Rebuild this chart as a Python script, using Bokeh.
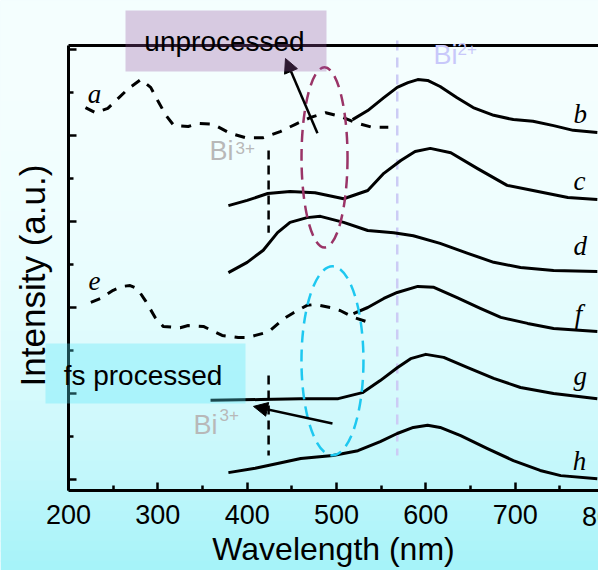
import math
from bokeh.plotting import figure
from bokeh.models import (Range1d, LinearAxis, FixedTicker, Label, BoxAnnotation,
                          Arrow, NormalHead)
from bokeh.embed import file_html
from bokeh.resources import INLINE

# ---------------- data ----------------
x_tick_values = [200, 300, 400, 500, 600, 700, 800]
x_tick_labels = ["200", "300", "400", "500", "600", "700", "800"]
x_minor_values = [250, 350, 450, 550, 650, 750]
y_tick_values = [0, 2, 4, 6, 8, 10]
y_minor_values = [1, 3, 5, 7, 9]

# unprocessed spectra (a dashed = excitation, b-d solid)
a_x = [219, 230, 244, 253, 267, 281, 292, 300, 309, 318, 334, 346, 362, 381, 398, 418,
       437, 454, 471, 488, 505, 521, 540, 558]
a_y = [8.65, 8.53, 8.63, 8.81, 9.09, 9.30, 9.12, 8.81, 8.47, 8.23, 8.21, 8.28, 8.26, 8.05,
       7.95, 7.95, 8.09, 8.26, 8.42, 8.53, 8.44, 8.30, 8.19, 8.19]
b_x = [518, 535, 553, 568, 580, 591, 602, 616, 635, 653, 676, 698, 720, 743, 765, 792]
b_y = [8.37, 8.58, 8.88, 9.12, 9.23, 9.30, 9.28, 9.14, 8.88, 8.65, 8.47, 8.37, 8.33, 8.23,
       8.12, 8.07]
c_x = [379, 400, 423, 448, 476, 508, 535, 553, 572, 588, 605, 628, 658, 691, 720, 759, 792]
c_y = [6.37, 6.49, 6.65, 6.70, 6.67, 6.53, 6.72, 7.12, 7.42, 7.63, 7.70, 7.60, 7.23, 6.84,
       6.72, 6.56, 6.51]
d_x = [379, 400, 418, 434, 448, 467, 482, 508, 535, 564, 586, 616, 647, 676, 706, 743, 792]
d_y = [4.81, 5.05, 5.33, 5.74, 5.98, 6.09, 6.12, 5.98, 5.79, 5.74, 5.67, 5.49, 5.26, 5.05,
       4.93, 4.86, 4.84]
# fs processed spectra (e dashed, f-h solid)
e_x = [225, 236, 250, 260, 269, 277, 286, 297, 306, 325, 334, 351, 372, 390, 400, 418,
       426, 441, 452, 467, 476, 493, 504, 519, 540]
e_y = [4.12, 4.21, 4.40, 4.49, 4.51, 4.44, 4.16, 3.77, 3.56, 3.53, 3.58, 3.56, 3.35, 3.30,
       3.30, 3.40, 3.47, 3.74, 3.88, 4.05, 4.07, 4.00, 3.93, 3.77, 3.63]
f_x = [519, 535, 553, 568, 591, 609, 635, 661, 684, 714, 743, 792]
f_y = [3.86, 4.00, 4.21, 4.35, 4.49, 4.47, 4.23, 3.98, 3.77, 3.63, 3.51, 3.44]
g_x = [359, 415, 460, 502, 529, 549, 568, 583, 600, 620, 647, 676, 706, 743, 792]
g_y = [1.84, 1.86, 1.88, 1.88, 2.02, 2.30, 2.60, 2.81, 2.91, 2.84, 2.60, 2.35, 2.14, 2.00,
       1.88]
h_x = [379, 409, 434, 460, 496, 524, 549, 568, 586, 602, 616, 639, 669, 698, 728, 751, 792]
h_y = [0.16, 0.26, 0.37, 0.49, 0.56, 0.67, 0.88, 1.07, 1.21, 1.26, 1.21, 1.02, 0.72, 0.44,
       0.21, 0.09, 0.02]

curve_names = ["a", "b", "c", "d", "e", "f", "g", "h"]
curve_label_x = [229, 773, 772, 773, 229, 771, 773, 772]
curve_label_y = [8.97, 8.50, 6.94, 5.43, 4.62, 3.86, 2.40, 0.43]

# reference lines (wavelength, y from, y to)
bi3_line_x = [424, 424]
bi3_line_y0 = [7.65, 2.42]
bi3_line_y1 = [5.74, 0.56]
bi2_line_x = [568]
bi2_line_y0 = [10.21]
bi2_line_y1 = [0.56]

# dashed ellipses (center x, center y, width nm, height a.u.)
ell_red = dict(x=[486.6], y=[7.49], w=[51.5], h=[4.19])
ell_cyan = dict(x=[495.5], y=[2.76], w=[69.4], h=[4.40])

# ---------------- figure ----------------
W, H = 598, 570
AX_X0, AX_X1 = 200, 793.3        # drawn extent of the wavelength axis
AX_Y0, AX_Y1 = -0.256, 10.093    # drawn extent of the intensity axis
PX_NM = 0.8933                   # pixels per nm
PX_U = 43.0                      # pixels per intensity unit
AX_LEFT, AX_TOP, AX_BOTTOM = 68, 45, 490   # axis positions in the canvas (px)

x_start = AX_X0 - AX_LEFT / PX_NM
x_end = x_start + W / PX_NM
y_start = AX_Y0 - (H - AX_BOTTOM) / PX_U
y_end = AX_Y1 + AX_TOP / PX_U

p = figure(width=W, height=H, output_backend="svg", toolbar_location=None,
           x_range=Range1d(x_start, x_end), y_range=Range1d(y_start, y_end),
           x_axis_location=None, y_axis_location=None,
           min_border_left=0, min_border_right=0, min_border_top=0, min_border_bottom=0)
p.grid.grid_line_color = None
p.outline_line_color = None
p.background_fill_color = "#e8fcfd"
p.border_fill_color = "#e8fcfd"

# gradient background (white -> cyan downward), canvas pixels
step = 10
for i in range(0, 58):
    c0 = i * step
    t = min(1.0, (c0 + step / 2) / H)
    f = t ** 2.5
    r = int(245 - 80 * f)
    g = int(255 - 12 * f)
    b = int(255 - 6 * f)
    p.add_layout(BoxAnnotation(left=0, right=W, top=c0, bottom=c0 + step + 1,
                               left_units="canvas", right_units="canvas",
                               top_units="canvas", bottom_units="canvas",
                               fill_color=(r, g, b), fill_alpha=1.0, line_color=None,
                               level="underlay"))

FONT = "Liberation Sans"

# axes (drawn at fixed locations, so the data area fills the whole picture)
xaxis = LinearAxis(ticker=FixedTicker(ticks=x_tick_values, minor_ticks=x_minor_values),
                   fixed_location=AX_Y0, bounds=(AX_X0, AX_X1))
xaxis.major_label_overrides = {v: s for v, s in zip(x_tick_values, x_tick_labels)}
xaxis.axis_line_width = 3
xaxis.major_tick_in = 8
xaxis.major_tick_out = 0
xaxis.minor_tick_in = 5
xaxis.minor_tick_out = 0
xaxis.major_tick_line_width = 2.5
xaxis.minor_tick_line_width = 2.5
xaxis.major_label_text_font = FONT
xaxis.major_label_text_font_size = "27px"
xaxis.major_label_text_color = "black"
xaxis.major_label_standoff = 14
xaxis.axis_label = "Wavelength (nm)"
xaxis.axis_label_text_font = FONT
xaxis.axis_label_text_font_size = "32px"
xaxis.axis_label_text_font_style = "normal"
xaxis.axis_label_text_color = "black"
xaxis.axis_label_standoff = 4
p.add_layout(xaxis, "below")

yaxis = LinearAxis(ticker=FixedTicker(ticks=[], minor_ticks=y_minor_values),
                   fixed_location=AX_X0, bounds=(AX_Y0, AX_Y1))
yaxis.axis_line_width = 3
yaxis.minor_tick_in = 5
yaxis.minor_tick_out = 0
yaxis.minor_tick_line_width = 2.5
p.add_layout(yaxis, "left")
# longer (major) inward ticks of the unlabeled intensity axis
p.segment(x0=[AX_X0] * len(y_tick_values), y0=y_tick_values,
          x1=[AX_X0 + 8 / PX_NM] * len(y_tick_values), y1=y_tick_values,
          line_color="black", line_width=2.5)

top_axis = LinearAxis(ticker=FixedTicker(ticks=[]), fixed_location=AX_Y1,
                      bounds=(AX_X0, AX_X1))
top_axis.axis_line_width = 3
top_axis.major_tick_in = 0
top_axis.major_tick_out = 0
top_axis.minor_tick_in = 0
top_axis.minor_tick_out = 0
p.add_layout(top_axis, "above")

# reference lines
p.segment(x0=bi2_line_x, y0=bi2_line_y0, x1=bi2_line_x, y1=bi2_line_y1,
          line_color="#ccccf5", line_width=2.5, line_dash="10 7")
p.segment(x0=bi3_line_x, y0=bi3_line_y0, x1=bi3_line_x, y1=bi3_line_y1,
          line_color="black", line_width=2.5, line_dash="9 6")

# curves
for xs, ys in [(a_x, a_y), (e_x, e_y)]:
    p.line(xs, ys, line_color="black", line_width=3, line_dash="10 9")
for xs, ys in [(b_x, b_y), (c_x, c_y), (d_x, d_y), (f_x, f_y), (g_x, g_y), (h_x, h_y)]:
    p.line(xs, ys, line_color="black", line_width=3, line_join="round")

# ellipses
p.ellipse(x=ell_red["x"], y=ell_red["y"], width=ell_red["w"], height=ell_red["h"],
          fill_color=None, line_color="#9a3467", line_width=2.5, line_dash="12 7")
p.ellipse(x=ell_cyan["x"], y=ell_cyan["y"], width=ell_cyan["w"], height=ell_cyan["h"],
          fill_color=None, line_color="#1ec8f0", line_width=2.5, line_dash="12 7")

# arrows
p.add_layout(Arrow(end=NormalHead(size=14, fill_color="black", line_color="black"),
                   x_start=478.7, y_start=8.05, x_end=442.9, y_end=9.79,
                   line_color="black", line_width=2.5))
p.add_layout(Arrow(end=NormalHead(size=14, fill_color="black", line_color="black"),
                   x_start=495.5, y_start=1.30, x_end=407.1, y_end=1.70,
                   line_color="black", line_width=2.5))

# annotation boxes (semi-transparent, above axes) in canvas pixels
def cbox(l, r, t, b, color, alpha):
    p.add_layout(BoxAnnotation(left=l, right=r, top=t, bottom=b,
                               left_units="canvas", right_units="canvas",
                               top_units="canvas", bottom_units="canvas",
                               fill_color=color, fill_alpha=alpha, line_color=None,
                               level="annotation"))

cbox(125, 326, 10, 71, (150, 82, 158), 0.3)
cbox(45, 245, 343, 403, (80, 230, 250), 0.32)

# texts: the y given is the vertical centre of the text
def clab(text, x, y, size, color="black", align="center", font=FONT, style="normal",
         angle=0.0):
    p.add_layout(Label(x=x, y=y, x_units="canvas", y_units="canvas", text=text,
                       text_font=font, text_font_size=size, text_color=color,
                       text_align=align, text_baseline="alphabetic",
                       text_font_style=style, angle=angle))

def dlab(text, x, y, size, font="Liberation Serif", style="italic"):
    p.add_layout(Label(x=x, y=y, text=text, text_font=font, text_font_size=size,
                       text_color="black", text_align="center",
                       text_baseline="alphabetic", text_font_style=style))

clab("unprocessed", 224, 40.5, "28px")
clab("fs processed", 142.5, 375, "28px")

# ion labels
clab("Bi", 209, 150.5, "27px", color="#b8b8b8", align="left")
clab("3+", 235, 147, "17px", color="#b8b8b8", align="left")
clab("Bi", 193, 424, "27px", color="#b8b8b8", align="left")
clab("3+", 219, 414.5, "17px", color="#b8b8b8", align="left")
clab("Bi", 433, 54.5, "27px", color="#c8c8fa", align="left")
clab("2+", 457, 48.5, "17px", color="#c8c8fa", align="left")

# curve letters
for name, lx, ly in zip(curve_names, curve_label_x, curve_label_y):
    dlab(name, lx, ly, "27px")

# y axis title
clab("Intensity (a.u.)", 31.5, 275, "35px", angle=math.pi / 2)

# the last tick label lies just past the picture's right edge (cut off, as in the original)
dlab(x_tick_labels[-1], x_tick_values[-1], -0.86, "27px", font=FONT, style="normal")

open("out.html", "w").write(file_html(p, INLINE))
